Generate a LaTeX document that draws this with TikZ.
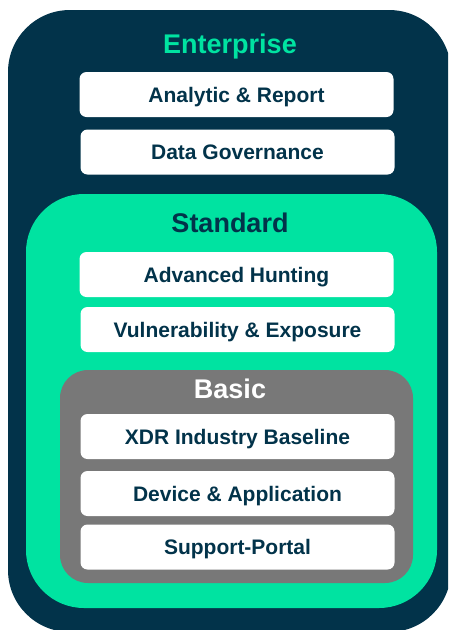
\documentclass[tikz,border=0pt]{standalone}
\usepackage{fontspec}
\setmainfont{Liberation Sans}
\definecolor{navy}{HTML}{02334A}
\definecolor{mint}{HTML}{00E3A1}
\definecolor{midgray}{HTML}{787878}
\begin{document}
\begin{tikzpicture}[x=1pt,y=1pt,
  itembox/.style={fill=white, rounded corners=7pt, minimum width=314pt, minimum height=45pt,
    inner sep=0pt, text height=15pt, text depth=0pt, text=navy,
    font=\fontsize{21}{24}\selectfont\bfseries},
  tiertitle/.style={anchor=base, inner sep=0pt, font=\fontsize{27}{30}\selectfont\bfseries}]
\useasboundingbox (0,0) rectangle (448,-630);
\begin{scope}
\clip (0,0) rectangle (448,-630);
\fill[navy, rounded corners=62pt] (8,-10) rectangle (451,-632);
\end{scope}
\fill[mint, rounded corners=58pt] (26,-194) rectangle (437,-608);
\fill[midgray, rounded corners=28pt] (60,-370) rectangle (413,-583);

\node[tiertitle, text=mint] (ent) at (230,-53) {Enterprise};
\node[tiertitle, text=navy] (std) at (230,-232) {Standard};
\node[tiertitle, text=white] (bas) at (230,-398) {Basic};

\node[itembox] (ar)  at (236.5,-94.5) {Analytic \& Report};
\node[itembox] (dg)  at (237.5,-152) {Data Governance};
\node[itembox] (ah)  at (236.5,-274.5) {Advanced Hunting};
\node[itembox] (ve)  at (237.5,-329.5) {Vulnerability \& Exposure};
\node[itembox] (xdr) at (237.5,-436.5) {XDR Industry Baseline};
\node[itembox] (dev) at (237.5,-493.5) {Device \& Application};
\node[itembox] (sp)  at (237.5,-547) {Support-Portal};
\end{tikzpicture}
\end{document}
